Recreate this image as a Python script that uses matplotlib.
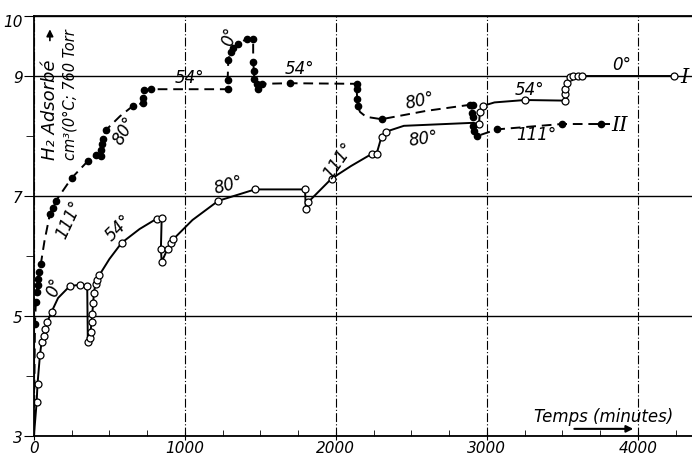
import matplotlib.pyplot as plt
import matplotlib.transforms as mtransforms
from matplotlib.ticker import FixedLocator, MultipleLocator

# Courbe I : cercles ouverts, trait plein
temps_I = [0, 18, 24, 40, 51, 64, 73, 88, 117, 160, 238, 305, 353, 357, 371, 375,
           382, 386, 393, 397, 408, 417, 433, 500, 581, 700, 812, 846, 841, 846,
           885, 905, 923, 1050, 1221, 1464, 1795, 1801, 1817, 1971, 2100, 2236,
           2269, 2302, 2329, 2450, 2909, 2947, 2954, 2971, 3050, 3252, 3517, 3517,
           3517, 3530, 3550, 3572, 3600, 3627, 4241]
h2_I = [3.0, 3.56, 3.87, 4.35, 4.57, 4.67, 4.78, 4.9, 5.07, 5.3, 5.5, 5.52, 5.5,
        4.57, 4.64, 4.74, 4.9, 5.03, 5.22, 5.39, 5.53, 5.6, 5.68, 5.95, 6.22, 6.45,
        6.62, 6.63, 6.12, 5.9, 6.12, 6.22, 6.28, 6.6, 6.92, 7.11, 7.11, 6.78, 6.9,
        7.29, 7.5, 7.7, 7.7, 7.99, 8.07, 8.17, 8.22, 8.2, 8.4, 8.5, 8.56, 8.6, 8.59,
        8.7, 8.79, 8.88, 8.98, 9.0, 9.0, 9.0, 9.0]
sans_point_I = [0, 9, 23, 25, 33, 40, 45, 46, 50]

# Courbe II : points pleins, trait interrompu
temps_II = [0, 7, 13, 18, 24, 29, 35, 46, 70, 106, 124, 146, 250, 360, 410, 444,
            444, 448, 455, 477, 570, 655, 724, 724, 728, 777, 1283, 1283, 1287,
            1302, 1320, 1353, 1408, 1452, 1452, 1457, 1459, 1475, 1486, 1508, 1695,
            2137, 2137, 2141, 2143, 2160, 2200, 2302, 2600, 2887, 2905, 2899, 2905,
            2909, 2916, 2936, 3064, 3495, 3755, 3815]
h2_II = [3.0, 4.87, 5.23, 5.4, 5.52, 5.62, 5.73, 5.87, 6.25, 6.7, 6.8, 6.92, 7.3,
         7.59, 7.68, 7.67, 7.76, 7.86, 7.95, 8.1, 8.33, 8.5, 8.55, 8.63, 8.77, 8.78,
         8.78, 8.93, 9.26, 9.4, 9.46, 9.53, 9.62, 9.62, 9.23, 9.09, 8.95, 8.87, 8.79,
         8.87, 8.88, 8.87, 8.78, 8.62, 8.5, 8.4, 8.32, 8.28, 8.42, 8.52, 8.52, 8.39,
         8.31, 8.17, 8.09, 8.0, 8.11, 8.2, 8.2, 8.2]
sans_point_II = [0, 8, 20, 45, 46, 48, 59]

x_ticks = [0, 1000, 2000, 3000, 4000]
y_ticks = [3, 5, 7, 9, 10]

# étiquettes de température : (texte, temps, valeur, rotation)
etiquettes = [
    ("0°", 135, 5.5, 70), ("111°", 235, 6.62, 65), ("80°", 600, 8.1, 60),
    ("54°", 1033, 8.98, 0), ("0°", 1298, 9.67, 75), ("54°", 1762, 9.14, 0),
    ("80°", 2556, 8.6, 12), ("80°", 2579, 7.97, 8), ("111°", 2015, 7.6, 55),
    ("80°", 1290, 7.2, 15), ("54°", 558, 6.48, 45), ("54°", 3285, 8.78, 0),
    ("111°", 3329, 8.03, 0), ("0°", 3892, 9.2, 0),
]

fig = plt.figure(figsize=(6.92, 4.6), dpi=100)
ax = fig.add_axes([0.049, 0.05, 0.951, 0.913])


def points(n, sans):
    return [i for i in range(n) if i not in sans]


ax.plot(temps_I, h2_I, color='black', lw=1.4, marker='o', ms=5,
        mfc='white', mec='black', mew=0.9,
        markevery=points(len(temps_I), sans_point_I), zorder=3)
ax.plot(temps_II, h2_II, color='black', lw=1.4, ls=(0, (5, 3)), marker='o', ms=4.5,
        mfc='black', mec='black',
        markevery=points(len(temps_II), sans_point_II), zorder=3)

for texte, t, v, rot in etiquettes:
    ax.text(t, v, texte, rotation=rot, fontsize=12, style='italic',
            ha='center', va='center', rotation_mode='anchor')

ax.text(4311, 9.0, "I", fontsize=15, style='italic', family='DejaVu Serif',
        ha='center', va='center')
ax.text(3881, 8.2, "II", fontsize=15, style='italic', family='DejaVu Serif',
        ha='center', va='center')

ax.set_xlim(0, 4358)
ax.set_ylim(3, 10)
ax.spines['right'].set_visible(False)
for s in ['left', 'bottom', 'top']:
    ax.spines[s].set_linewidth(1.3)

ax.xaxis.set_major_locator(FixedLocator(x_ticks))
ax.xaxis.set_minor_locator(MultipleLocator(250))
ax.yaxis.set_major_locator(FixedLocator(y_ticks))
ax.yaxis.set_minor_locator(FixedLocator([4, 6, 8]))
ax.set_xticklabels([str(t) for t in x_ticks], fontsize=11, style='italic')
ax.set_yticklabels([str(t) for t in y_ticks], fontsize=11, style='italic')
ax.tick_params(axis='x', which='major', direction='inout', length=6, pad=0)
ax.tick_params(axis='x', which='minor', direction='in', length=4)
ax.tick_params(axis='y', which='major', direction='out', length=7, pad=1)
ax.tick_params(axis='y', which='minor', direction='out', length=6)

# le « 10 » du haut descend un peu pour rester dans l'image
haut = ax.get_yticklabels()[-1]
haut.set_transform(haut.get_transform() +
                   mtransforms.ScaledTranslation(0, -3 / 72, fig.dpi_scale_trans))

ax.grid(axis='x', which='major', color='black', lw=0.8, ls=(0, (8, 2, 1, 2)))
ax.grid(axis='y', which='major', color='black', lw=1.0)

# légende des axes
ax.text(0.0243, 0.66, "H₂ Adsorbé", rotation=90, fontsize=13, style='italic',
        ha='center', va='bottom', transform=ax.transAxes)
ax.text(0.0547, 0.66, "cm³(0°C; 760 Torr", rotation=90, fontsize=10.5, style='italic',
        ha='center', va='bottom', transform=ax.transAxes)
ax.annotate('', xy=(0.0243, 0.975), xytext=(0.0243, 0.935), xycoords='axes fraction',
            arrowprops=dict(arrowstyle='-|>', color='black', lw=1.2))
ax.text(0.865, 0.048, "Temps (minutes)", fontsize=12, style='italic',
        ha='center', va='center', transform=ax.transAxes)
ax.annotate('', xy=(0.915, 0.017), xytext=(0.817, 0.017), xycoords='axes fraction',
            arrowprops=dict(arrowstyle='-|>', color='black', lw=1.5))

fig.savefig('out.png', dpi=100)
